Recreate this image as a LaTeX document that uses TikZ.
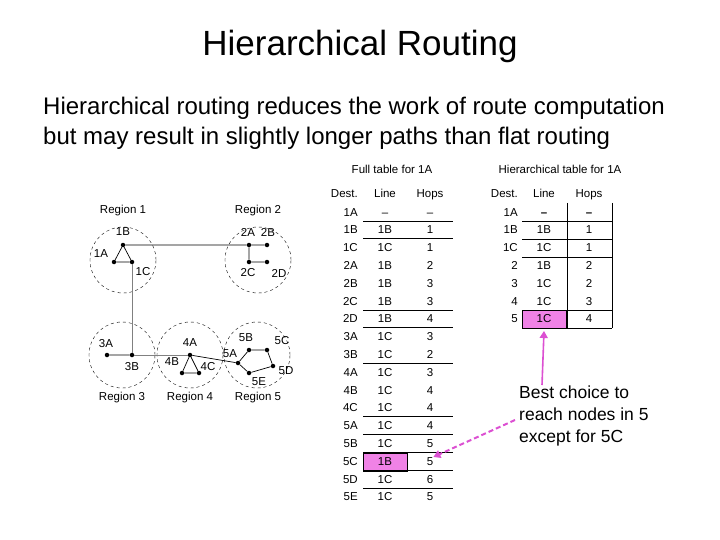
\documentclass[tikz,border=0pt]{standalone}
\usepackage{fontspec}
\setmainfont{Liberation Sans}
\usetikzlibrary{arrows.meta}
\definecolor{pinkf}{RGB}{240,130,230}
\definecolor{mag}{RGB}{220,80,210}
\begin{document}
\begin{tikzpicture}[x=1pt,y=-1pt,
  dot/.style={circle,fill=black,inner sep=0pt,minimum size=4.5pt},
  lbl/.style={font=\fontsize{11.5}{13}\selectfont,inner sep=0pt},
  reg/.style={draw,dashed,circle,minimum size=66pt,inner sep=0pt},
  tb/.style={font=\fontsize{11.5}{13}\selectfont,inner sep=0pt,text height=8pt,text depth=0pt},
  hl/.style={line width=0.8pt}]
\useasboundingbox (0,0) rectangle (720,540);
\node[font=\fontsize{35}{40}\selectfont] (title) at (360,46) {Hierarchical Routing};
\node[font=\fontsize{24}{28}\selectfont,anchor=west,inner sep=0pt] (l1) at (43,108) {Hierarchical routing reduces the work of route computation};
\node[font=\fontsize{24}{28}\selectfont,anchor=west,inner sep=0pt] (l2) at (43,138) {but may result in slightly longer paths than flat routing};
% regions
\node[reg] (r1) at (123,260) {};
\node[reg] (r2) at (258,260) {};
\node[reg] (r3) at (122,355) {};
\node[reg] (r4) at (190,355) {};
\node[reg] (r5) at (257,355) {};
\node[lbl] (R1) at (123,211) {Region 1};
\node[lbl] (R2) at (258,211) {Region 2};
\node[lbl] (R3) at (122,398) {Region 3};
\node[lbl] (R4) at (190,398) {Region 4};
\node[lbl] (R5) at (258,398) {Region 5};
% nodes
\foreach \n/\x/\y in {1B/123/245,1A/114/262,1C/132/262,2A/249/245,2B/267/245,2C/249/262,2D/267/262,3A/107/355,3B/132/355,4A/190/355,4B/182/373,4C/199/373,5A/238/363,5B/249/350,5C/267/350,5D/273/366,5E/249/373}
  \node[dot] (n\n) at (\x,\y) {};
\foreach \n/\x/\y in {1B/123/232,1A/101/254,1C/143/272,2A/248/232,2B/268/232,2C/248/273,2D/279/273,3A/106/344,3B/132/367,4A/190/343,4B/172/362,4C/208/367,5A/230/354,5B/246/338,5C/282/341,5D/286/371,5E/259/382}
  \node[lbl] (t\n) at (\x,\y) {\n};
\draw[line width=0.7pt] (n1B)--(n1A)--(n1C)--(n1B) (n1B)--(n2A) (n2A)--(n2B) (n2A)--(n2C) (n2C)--(n2D)
  (n3A)--(n3B) (n4A)--(n4B)--(n4C)--(n4A) (n4A)--(n5A) (n5A)--(n5B)--(n5C)--(n5D)--(n5E)--(n5A);
\draw[line width=0.9pt,gray] (n1C)--(n3B) (n3B)--(n4A);
% full table
\node[tb] (fh) at (392,170) {Full table for 1A};
\node[tb,anchor=east] (fd) at (358,194) {Dest.};
\node[tb] (fl) at (385,194) {Line};
\node[tb] (fo) at (430,194) {Hops};
\fill[pinkf] (363,453) rectangle (407,471);
\draw (363,453) rectangle (407,471);
\foreach \d/\l/\h [count=\i from 0] in {1A/--/--,1B/1B/1,1C/1C/1,2A/1B/2,2B/1B/3,2C/1B/3,2D/1B/4,3A/1C/3,3B/1C/2,4A/1C/3,4B/1C/4,4C/1C/4,5A/1C/4,5B/1C/5,5C/1B/5,5D/1C/6,5E/1C/5}{
  \node[tb,anchor=east] (fd\i) at (358,212+17.8*\i) {\d};
  \node[tb] (fl\i) at (385,212+17.8*\i) {\l};
  \node[tb] (fo\i) at (430,212+17.8*\i) {\h};}
\foreach \i in {0,1,5,6,8,11,12,13,14,15}
  \draw[hl] (363,221+17.8*\i) -- (453,221+17.8*\i);
% hierarchical table
\node[tb] (hh) at (560,170) {Hierarchical table for 1A};
\node[tb,anchor=east] (hd) at (518,194) {Dest.};
\node[tb] (hlh) at (544,194) {Line};
\node[tb] (ho) at (589,194) {Hops};
\fill[pinkf] (522,310) rectangle (566,328);
\draw (522,310) rectangle (566,328);
\foreach \d/\l/\h [count=\i from 0] in {1A/\textbf{--}/\textbf{--},1B/1B/1,1C/1C/1,2/1B/2,3/1C/2,4/1C/3,5/1C/4}{
  \node[tb,anchor=east] (hd\i) at (518,212+17.8*\i) {\d};
  \node[tb] (hl\i) at (544,212+17.8*\i) {\l};
  \node[tb] (ho\i) at (589,212+17.8*\i) {\h};}
\foreach \y in {221,239,257,310,328}
  \draw[hl] (522,\y) -- (612,\y);
\draw[hl] (567,203) -- (567,328) (612,203) -- (612,328);
% annotation
\node[font=\fontsize{17.5}{22}\selectfont,align=left,anchor=north west,inner sep=0pt] (note) at (519,386) {Best choice to\\reach nodes in 5\\except for 5C};
\coordinate (up) at (542,385);
\draw[mag,line width=1.6pt,-{Triangle[length=7pt,width=8pt]}] (up) -- (hl6.south |- 0,331);
\coordinate (ds) at (515,420);
\draw[mag,line width=2pt,dashed,dash pattern=on 5pt off 3pt,-{Triangle[length=7pt,width=8pt]}] (ds) -- (fo14.north east);
\end{tikzpicture}
\end{document}
